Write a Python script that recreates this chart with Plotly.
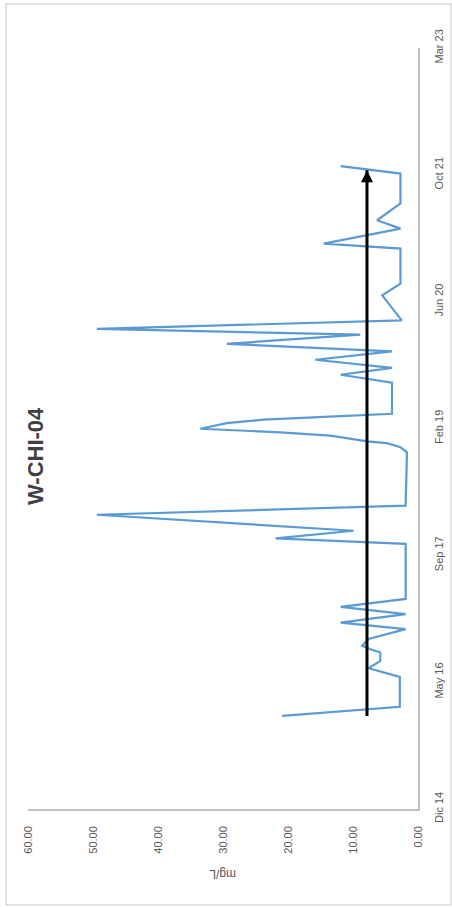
import plotly.graph_objects as go

# ---- data ----
sample_dates = [
    "2015-12-27", "2016-02-01", "2016-05-29", "2016-07-02", "2016-07-31", "2016-09-02",
    "2016-09-15", "2016-09-28", "2016-10-25", "2016-12-03", "2016-12-29", "2017-01-31",
    "2017-03-01", "2017-04-01", "2017-11-04", "2017-11-26", "2017-12-26", "2018-02-27",
    "2018-04-04", "2018-10-31", "2018-11-20", "2018-12-06", "2018-12-13", "2019-01-05",
    "2019-01-18", "2019-02-01", "2019-02-23", "2019-03-09", "2019-03-18", "2019-03-28",
    "2019-04-01", "2019-08-02", "2019-09-02", "2019-09-29", "2019-10-31", "2019-12-03",
    "2020-01-02", "2020-02-07", "2020-03-01", "2020-04-03", "2020-07-11", "2020-08-26",
    "2021-01-11", "2021-01-31", "2021-03-31", "2021-05-03", "2021-07-08", "2021-11-03",
    "2021-12-02",
]
concentration = [
    20.9, 2.8, 2.8, 7.6, 5.8, 5.8,
    7.3, 8.6, 7.6, 1.9, 11.9, 1.9,
    11.9, 1.9, 1.9, 21.9, 9.9, 49.4,
    1.9, 1.7, 2.7, 4.8, 7.8, 13.5,
    21.2, 33.5, 29.4, 23.8, 16.1, 7.8,
    4.0, 4.0, 11.9, 4.0, 15.8, 4.0,
    29.4, 8.9, 49.4, 2.5, 5.5, 2.7,
    2.7, 14.5, 2.7, 6.3, 2.7, 2.7,
    11.9,
]

trend_dates = ["2015-12-27", "2021-11-16"]
trend_level = [7.85, 7.85]

date_tick_vals = ["2014-12-25", "2016-05-08", "2017-09-20", "2019-02-02",
                  "2020-06-16", "2021-10-29", "2023-03-13"]
date_tick_text = ["Dic 14", "May 16", "Sep 17", "Feb 19", "Jun 20", "Oct 21", "Mar 23"]
value_ticks = [0, 10, 20, 30, 40, 50, 60]

title_text = "W-CHI-04"
unit_text = "mg/L"

# ---- figure (chart drawn rotated 90° counter-clockwise) ----
W, H = 452, 907
ML, MR, MT, MB = 28, 34, 48, 98
pw, ph = W - ML - MR, H - MT - MB

def px_x(p):
    return (p - ML) / pw

def px_y(p):
    return (H - MB - p) / ph

fig = go.Figure()
fig.add_trace(go.Scatter(
    x=concentration, y=sample_dates, mode="lines",
    line=dict(color="#5B9BD5", width=2.2), hoverinfo="skip", showlegend=False,
))
fig.add_trace(go.Scatter(
    x=trend_level, y=trend_dates, mode="lines",
    line=dict(color="#000000", width=3), hoverinfo="skip", showlegend=False,
))
fig.add_annotation(
    x=trend_level[1], y=trend_dates[1], xref="x", yref="y",
    ax=0, ay=14, text="", showarrow=True, arrowhead=2, arrowsize=0.8,
    arrowwidth=3, arrowcolor="#000000",
)

font_family = "Liberation Sans, Arial, sans-serif"
tick_font = dict(family=font_family, size=11, color="#595959")

fig.update_layout(
    template="none",
    width=W, height=H,
    margin=dict(l=ML, r=MR, t=MT, b=MB, pad=0),
    paper_bgcolor="white", plot_bgcolor="white",
    showlegend=False,
    xaxis=dict(
        range=[60, 0], tickvals=value_ticks, tickformat=".2f",
        tickangle=-90, tickfont=tick_font, showgrid=False, zeroline=False,
        showline=True, linecolor="#BFBFBF", linewidth=1.5, ticks="",
        ticklabelstandoff=11, side="bottom", fixedrange=True, automargin=False,
    ),
    yaxis=dict(
        type="date", range=[date_tick_vals[0], date_tick_vals[-1]],
        tickvals=date_tick_vals, ticktext=date_tick_text,
        tickangle=-90, tickfont=tick_font, showgrid=False, zeroline=False,
        showline=True, linecolor="#BFBFBF", linewidth=1.5, ticks="",
        side="right", ticklabelstandoff=10, fixedrange=True, automargin=False,
    ),
    annotations=list(fig.layout.annotations) + [
        dict(text="<b>" + title_text + "</b>", x=px_x(35), y=px_y(456),
             xref="paper", yref="paper", showarrow=False, textangle=-90,
             font=dict(family=font_family, size=22, color="#404040"),
             xanchor="center", yanchor="middle"),
        dict(text=unit_text, x=px_x(223), y=px_y(874),
             xref="paper", yref="paper", showarrow=False, textangle=180,
             font=dict(family=font_family, size=12, color="#595959"),
             xanchor="center", yanchor="middle"),
    ],
    shapes=[dict(type="rect", xref="paper", yref="paper",
                 x0=px_x(6), x1=px_x(451), y0=px_y(905), y1=px_y(4),
                 line=dict(color="#D9D9D9", width=1.5), layer="below")],
)

fig.write_html(
    "out.html",
    config={"displayModeBar": False},
    post_script="document.body.style.margin='0';document.body.style.overflow='hidden';",
)
